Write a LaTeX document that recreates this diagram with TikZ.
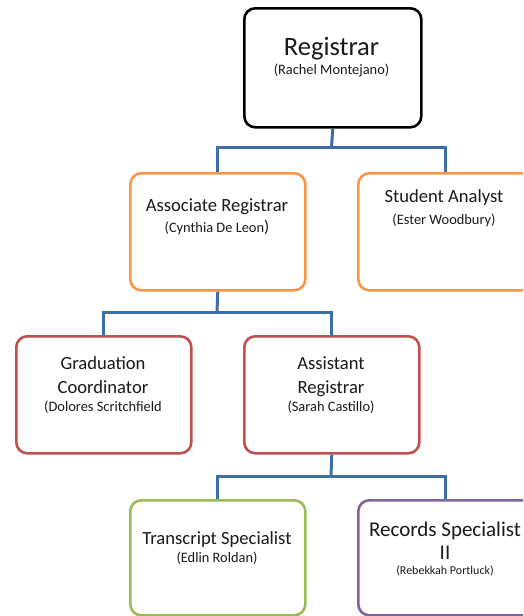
\documentclass[tikz,border=0pt]{standalone}
\usepackage{fontspec}
\setmainfont{Carlito}
\definecolor{connblue}{HTML}{3F6DA8}
\definecolor{boxorange}{HTML}{F79646}
\definecolor{boxred}{HTML}{C0504D}
\definecolor{boxgreen}{HTML}{9BBB59}
\definecolor{boxpurple}{HTML}{8064A2}
\definecolor{txt}{HTML}{1A1A1A}
\tikzset{
  card/.style={draw=#1, line width=2.6pt, rounded corners=11pt, fill=white,
    minimum width=175pt, minimum height=117pt, inner sep=0pt, anchor=north west},
  link/.style={draw=connblue, line width=3pt},
  ttl/.style={anchor=base, inner sep=0pt, text=txt, font=\fontsize{18.6}{22}\selectfont},
  sub/.style={anchor=base, inner sep=0pt, text=txt, font=\fontsize{14.4}{17}\selectfont},
}
\begin{document}
\begin{tikzpicture}[x=1pt, y=-1pt]
\clip (0,0) rectangle (523,616);
\fill[white] (0,0) rectangle (523,616);

% boxes
\node[card=black, minimum width=177pt, minimum height=119pt] (reg) at (243,7) {};
\node[card=boxorange] (assoc) at (129,172) {};
\node[card=boxorange] (stud) at (357,172) {};
\node[card=boxred] (grad) at (15,335) {};
\node[card=boxred] (asst) at (243,335) {};
\node[card=boxgreen, minimum height=115pt] (trans) at (129,499) {};
\node[card=boxpurple, minimum height=115pt] (recs) at (357,499) {};

% connector junctions
\coordinate (j1) at (331.5,147);
\coordinate (j2) at (217,312);
\coordinate (j3) at (331,476);

\draw[link] (reg.south) -- (j1);
\draw[link] (assoc.north) |- (j1) -| (stud.north);
\draw[link] (assoc.south) -- (j2);
\draw[link] (grad.north) |- (j2) -| (asst.north);
\draw[link] (asst.south) -- (j3);
\draw[link] (trans.north) |- (j3) -| (recs.north);

% labels
\node[ttl, font=\fontsize{26.5}{30}\selectfont] (regt) at (331.5,55) {Registrar};
\node[sub] (regs) at (331.5,74) {(Rachel Montejano)};

\node[ttl] (assoct) at (217,211) {Associate Registrar};
\node[sub] (assocs) at (217,232) {(Cynthia De Leon\fontsize{17}{19}\selectfont)};

\node[ttl] (studt) at (444,202) {Student Analyst};
\node[sub] (studs) at (444,224) {(Ester Woodbury)};

\node[ttl] (gradt1) at (103,369) {Graduation};
\node[ttl] (gradt2) at (103,393) {Coordinator};
\node[sub] (grads) at (103,411) {(Dolores Scritchfield};

\node[ttl] (asstt1) at (331,369) {Assistant};
\node[ttl] (asstt2) at (331,393) {Registrar};
\node[sub] (assts) at (331,411) {(Sarah Castillo)};

\node[ttl] (transt) at (217,544) {Transcript Specialist};
\node[sub] (transs) at (217,562) {(Edlin Roldan)};

\node[ttl, font=\fontsize{21}{24}\selectfont] (recst1) at (445,536) {Records Specialist};
\node[ttl, font=\fontsize{21}{24}\selectfont] (recst2) at (445,559) {II};
\node[sub, font=\fontsize{12}{14}\selectfont] (recss) at (445,574) {(Rebekkah Portluck)};
\end{tikzpicture}
\end{document}
